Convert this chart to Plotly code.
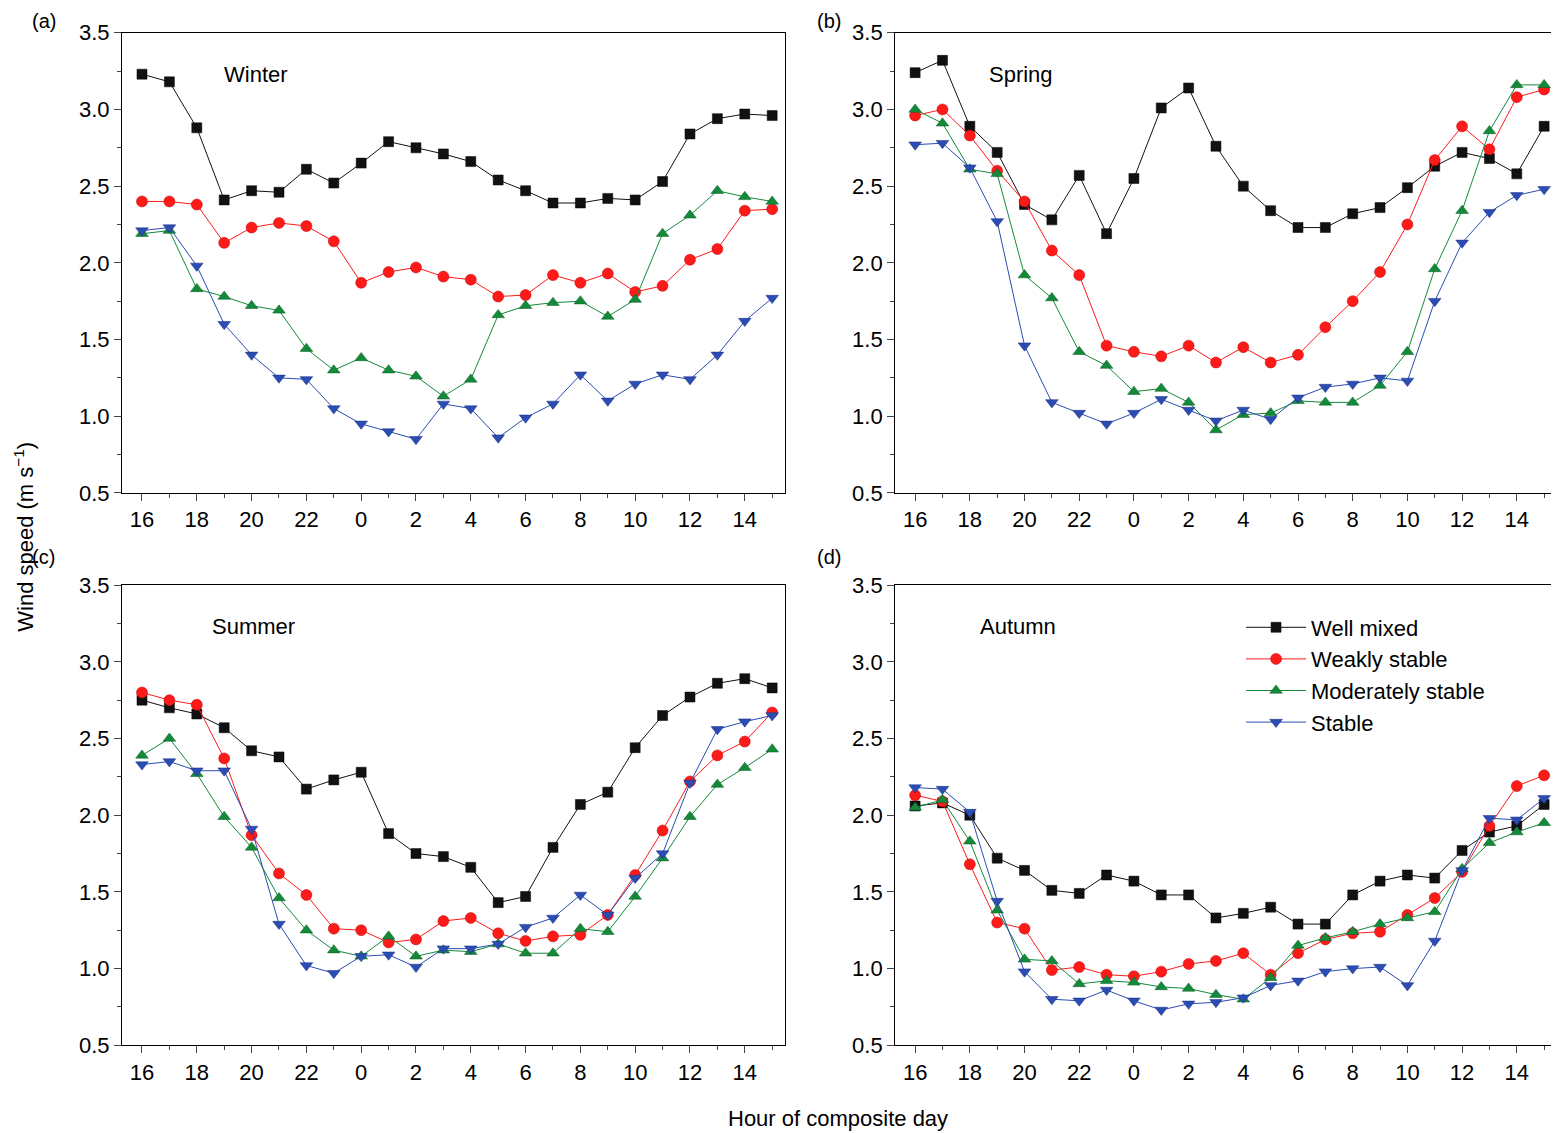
import plotly.graph_objects as go

hour_labels = ['16', '17', '18', '19', '20', '21', '22', '23', '0', '1', '2', '3',
               '4', '5', '6', '7', '8', '9', '10', '11', '12', '13', '14', '15']
seasons = ['Winter', 'Spring', 'Summer', 'Autumn']
series_names = ['Well mixed', 'Weakly stable', 'Moderately stable', 'Stable']

winter_mixed = [3.23, 3.18, 2.88, 2.41, 2.47, 2.46, 2.61, 2.52, 2.65, 2.79, 2.75, 2.71, 2.66, 2.54, 2.47, 2.39, 2.39, 2.42, 2.41, 2.53, 2.84, 2.94, 2.97, 2.96]
winter_weak = [2.40, 2.40, 2.38, 2.13, 2.23, 2.26, 2.24, 2.14, 1.87, 1.94, 1.97, 1.91, 1.89, 1.78, 1.79, 1.92, 1.87, 1.93, 1.81, 1.85, 2.02, 2.09, 2.34, 2.35]
winter_mod = [2.19, 2.21, 1.83, 1.78, 1.72, 1.69, 1.44, 1.30, 1.38, 1.30, 1.26, 1.13, 1.24, 1.66, 1.72, 1.74, 1.75, 1.65, 1.76, 2.19, 2.31, 2.47, 2.43, 2.40]
winter_stable = [2.21, 2.23, 1.98, 1.60, 1.40, 1.25, 1.24, 1.05, 0.95, 0.90, 0.85, 1.08, 1.05, 0.86, 0.99, 1.08, 1.27, 1.10, 1.21, 1.27, 1.24, 1.40, 1.62, 1.77]

spring_mixed = [3.24, 3.32, 2.89, 2.72, 2.38, 2.28, 2.57, 2.19, 2.55, 3.01, 3.14, 2.76, 2.50, 2.34, 2.23, 2.23, 2.32, 2.36, 2.49, 2.63, 2.72, 2.68, 2.58, 2.89]
spring_weak = [2.96, 3.00, 2.83, 2.60, 2.40, 2.08, 1.92, 1.46, 1.42, 1.39, 1.46, 1.35, 1.45, 1.35, 1.40, 1.58, 1.75, 1.94, 2.25, 2.67, 2.89, 2.74, 3.08, 3.13]
spring_mod = [3.00, 2.91, 2.61, 2.58, 1.92, 1.77, 1.42, 1.33, 1.16, 1.18, 1.09, 0.91, 1.01, 1.02, 1.10, 1.09, 1.09, 1.20, 1.42, 1.96, 2.34, 2.86, 3.16, 3.16]
spring_stable = [2.77, 2.78, 2.62, 2.27, 1.46, 1.09, 1.02, 0.95, 1.02, 1.11, 1.04, 0.97, 1.04, 0.98, 1.12, 1.19, 1.21, 1.25, 1.23, 1.75, 2.13, 2.33, 2.44, 2.48]

summer_mixed = [2.75, 2.70, 2.66, 2.57, 2.42, 2.38, 2.17, 2.23, 2.28, 1.88, 1.75, 1.73, 1.66, 1.43, 1.47, 1.79, 2.07, 2.15, 2.44, 2.65, 2.77, 2.86, 2.89, 2.83]
summer_weak = [2.80, 2.75, 2.72, 2.37, 1.87, 1.62, 1.48, 1.26, 1.25, 1.17, 1.19, 1.31, 1.33, 1.23, 1.18, 1.21, 1.22, 1.35, 1.61, 1.90, 2.22, 2.39, 2.48, 2.67]
summer_mod = [2.39, 2.50, 2.27, 1.99, 1.79, 1.46, 1.25, 1.12, 1.08, 1.21, 1.08, 1.12, 1.11, 1.16, 1.10, 1.10, 1.26, 1.24, 1.47, 1.72, 1.99, 2.20, 2.31, 2.43]
summer_stable = [2.33, 2.35, 2.29, 2.29, 1.91, 1.29, 1.02, 0.97, 1.08, 1.09, 1.01, 1.13, 1.13, 1.16, 1.27, 1.33, 1.48, 1.35, 1.59, 1.75, 2.21, 2.56, 2.61, 2.65]

autumn_mixed = [2.06, 2.08, 2.00, 1.72, 1.64, 1.51, 1.49, 1.61, 1.57, 1.48, 1.48, 1.33, 1.36, 1.40, 1.29, 1.29, 1.48, 1.57, 1.61, 1.59, 1.77, 1.89, 1.93, 2.07]
autumn_weak = [2.13, 2.09, 1.68, 1.30, 1.26, 0.99, 1.01, 0.96, 0.95, 0.98, 1.03, 1.05, 1.10, 0.96, 1.10, 1.19, 1.23, 1.24, 1.35, 1.46, 1.63, 1.93, 2.19, 2.26]
autumn_mod = [2.05, 2.10, 1.83, 1.38, 1.06, 1.05, 0.90, 0.92, 0.91, 0.88, 0.87, 0.83, 0.80, 0.94, 1.15, 1.20, 1.24, 1.29, 1.33, 1.37, 1.65, 1.82, 1.89, 1.95]
autumn_stable = [2.18, 2.17, 2.02, 1.44, 0.98, 0.80, 0.79, 0.86, 0.79, 0.73, 0.77, 0.78, 0.81, 0.89, 0.92, 0.98, 1.00, 1.01, 0.89, 1.18, 1.64, 1.98, 1.97, 2.11]

data = [
    [winter_mixed, winter_weak, winter_mod, winter_stable],
    [spring_mixed, spring_weak, spring_mod, spring_stable],
    [summer_mixed, summer_weak, summer_mod, summer_stable],
    [autumn_mixed, autumn_weak, autumn_mod, autumn_stable],
]

colors = ['#111111', '#ff1a1a', '#138a3a', '#2b4cb3']
symbols = ['square', 'circle', 'triangle-up', 'triangle-down']
edge = ['#000000', '#c00000', '#0b5a25', '#1a2f80']

# page is offset by the 8px body margin, so the figure is 1551x1125
xdom = [[0.0735, 0.501], [0.572, 0.9987]]
ydom = [[0.569, 0.978], [0.078, 0.487]]
x = list(range(len(hour_labels)))

fig = go.Figure()
font = dict(family='Liberation Sans, Arial', size=22, color='black')
annotations = []
for p in range(4):
    r, c = divmod(p, 2)
    sfx = '' if p == 0 else str(p + 1)
    for s in range(4):
        fig.add_trace(go.Scatter(
            x=x, y=data[p][s], mode='lines+markers', name=series_names[s],
            xaxis='x' + sfx, yaxis='y' + sfx, showlegend=(p == 3),
            line=dict(color=colors[s], width=1),
            marker=dict(symbol=symbols[s], size=11 if s else 10, color=colors[s],
                        line=dict(color=edge[s], width=0.5))))
    ax = dict(domain=xdom[c], anchor='y' + sfx, range=[-0.73, 23.47],
              tickmode='array', tickvals=x[::2], ticktext=hour_labels[::2],
              ticks='outside', ticklen=7, mirror=True, showline=True,
              linecolor='black', linewidth=1.2, showgrid=False, zeroline=False,
              automargin=False,
              minor=dict(tickmode='array', tickvals=x[1::2], ticks='outside', ticklen=4),
              tickfont=font)
    ay = dict(domain=ydom[r], anchor='x' + sfx, range=[0.5, 3.5], dtick=0.5,
              tickformat='.1f', ticks='outside', ticklen=7, mirror=True,
              showline=True, linecolor='black', linewidth=1.2, showgrid=False,
              zeroline=False, automargin=False,
              minor=dict(dtick=0.25, ticks='outside', ticklen=4),
              tickfont=font)
    fig.layout['xaxis' + sfx] = ax
    fig.layout['yaxis' + sfx] = ay
    annotations.append(dict(text='(' + 'abcd'[p] + ')', xref='paper', yref='paper',
                            x=[0.014, 0.52][c], y=[1.0, 0.524][r],
                            xanchor='left', yanchor='top', showarrow=False,
                            font=dict(family='Liberation Sans, Arial', size=20)))
    annotations.append(dict(text=seasons[p], xref='x' + sfx, yref='y' + sfx,
                            x=[2.92, 2.63, 2.48, 2.3][p], y=3.23,
                            xanchor='left', showarrow=False, font=font))

annotations.append(dict(text='Wind speed (m s<sup>−1</sup>)', xref='paper', yref='paper',
                        x=0.0, y=0.53, xanchor='left', textangle=-90, showarrow=False,
                        font=font))
annotations.append(dict(text='Hour of composite day', xref='paper', yref='paper',
                        x=0.535, y=0.0, yanchor='bottom', showarrow=False, font=font))

fig.update_layout(
    width=1551, height=1125, margin=dict(l=0, r=0, t=0, b=0),
    plot_bgcolor='white', paper_bgcolor='white', font=font,
    annotations=annotations,
    legend=dict(x=0.795, y=0.468, xanchor='left', yanchor='top',
                bgcolor='rgba(0,0,0,0)', font=font, tracegroupgap=0,
                itemwidth=60),
)
fig.write_html("out.html")
